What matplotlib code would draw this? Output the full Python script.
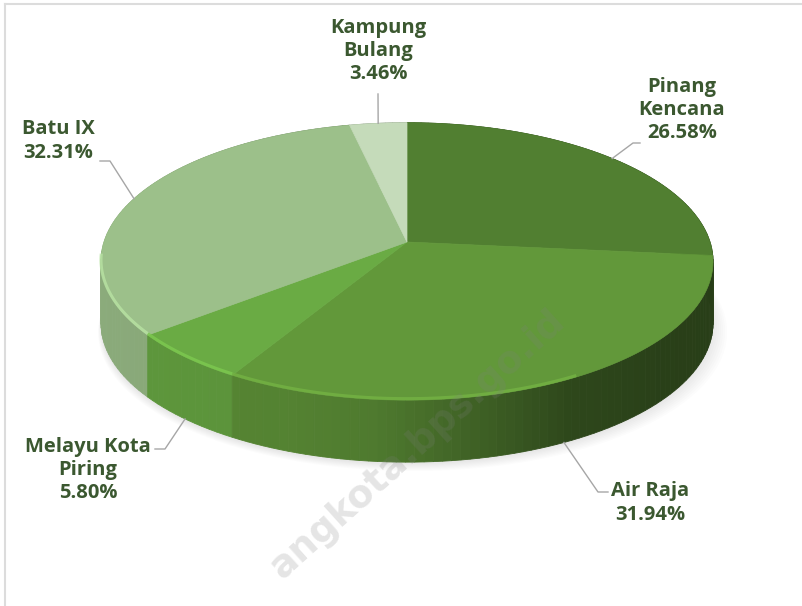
import numpy as np
import matplotlib
matplotlib.use("Agg")
import matplotlib.pyplot as plt
from matplotlib.patches import Polygon
from matplotlib.colors import to_rgb

# ---- data ----
names = ["Pinang\nKencana", "Air Raja", "Melayu Kota\nPiring", "Batu IX", "Kampung\nBulang"]
values = [26.58, 31.94, 5.80, 32.31, 3.46]
top_colors = ["#517f31", "#62983a", "#6aab44", "#9cc08a", "#c5dbba"]

# ---- layout (pixel space) ----
CX, CY = 407.0, 242.0      # centre of the top face
A, B = 303.0, 136.0        # radii
K = 0.14                   # perspective factor
H = 62.0                   # thickness
START = 90.0

# label layout: (text centre x, text centre y, elbow point, segment end)
label_layout = [
    (682, 110, (633, 143), (640, 143)),
    (650, 503, (598, 492), (608, 492)),
    (88, 470, (165, 449), (155, 449)),
    (58, 141, (110, 161), (100, 161)),
    (378, 51, (378, 94), (378, 94)),
]

def proj(theta_deg, dz=0.0):
    t = np.radians(theta_deg)
    u, v = np.cos(t), np.sin(t)
    w = 1 + K * v
    return CX + A * u / w, CY - B * v / w + dz

def shade(theta_deg):
    th = np.mod(theta_deg, 360)
    xs = [0, 90, 180, 250, 265, 280, 298, 320, 360]
    fs = [0.40, 0.6, 0.90, 0.86, 0.80, 0.65, 0.47, 0.42, 0.40]
    return np.interp(th, xs, fs)

fig = plt.figure(figsize=(8.02, 6.06), dpi=100)
ax = fig.add_axes([0, 0, 1, 1])
ax.set_xlim(0, 802)
ax.set_ylim(606, 0)
ax.axis("off")

# frame lines
ax.plot([5, 5], [4, 606], color="#dcdcdc", lw=1.5, zorder=1)
ax.plot([5, 802], [4, 4], color="#dcdcdc", lw=1.5, zorder=1)

total = sum(values)
spans = [v / total * 360 for v in values]
bounds = []
a = START
for s in spans:
    bounds.append((a, a - s))
    a -= s

# soft shadow
th_all = np.linspace(0, 360, 240)
for i in range(8):
    xs, ys = proj(th_all, H + 2 + i)
    xs = CX + (xs - CX) * (1 + 0.004 * i) + i * 0.8
    ax.add_patch(Polygon(np.c_[xs, ys], closed=True, fc="black", ec="none",
                         alpha=0.012, zorder=2))

# side quads
quads = []
for (a0, a1), col in zip(bounds, top_colors):
    base = np.array(to_rgb(col))
    n = max(int(abs(a0 - a1) / 1.5), 2)
    th = np.linspace(a0, a1, n + 1)
    for t1, t2 in zip(th[:-1], th[1:]):
        tm = 0.5 * (t1 + t2)
        depth = np.sin(np.radians(tm))
        quads.append((depth, t1, t2, base, tm))
quads.sort(key=lambda q: -q[0])
for depth, t1, t2, base, tm in quads:
    x1, y1 = proj(t1)
    x2, y2 = proj(t2)
    f = shade(tm)
    c = np.clip(base * f, 0, 1)
    poly = [(x1, y1), (x2, y2), (x2, y2 + H), (x1, y1 + H)]
    ax.add_patch(Polygon(poly, closed=True, fc=c, ec=c, lw=0.6, zorder=3))

# top wedges
for (a0, a1), col in zip(bounds, top_colors):
    th = np.linspace(a0, a1, 200)
    xs, ys = proj(th)
    pts = np.vstack([[CX, CY], np.c_[xs, ys]])
    ax.add_patch(Polygon(pts, closed=True, fc=col, ec=col, lw=0.5, zorder=4))

# bevel highlight along the front rim
for (a0, a1), col in zip(bounds, top_colors):
    lo, hi = min(a0, a1), max(a0, a1)
    th = np.linspace(lo, hi, 120)
    th = np.mod(th, 360)
    mask = (th > 185) & (th < 300)
    if mask.sum() > 2:
        xs, ys = proj(th[mask])
        c = np.clip(np.array(to_rgb(col)) * 1.18, 0, 1)
        ax.plot(xs, ys - 1.5, color=c, lw=2.2, alpha=0.8, zorder=5,
                solid_capstyle="butt")

# labels & leader lines
txt_color = "#3b5830"
for (a0, a1), name, val, (tx, ty, elbow, end) in zip(bounds, names, values, label_layout):
    mid = 0.5 * (a0 + a1)
    dz = H if np.sin(np.radians(mid)) < -0.3 else 0.0
    px, py = proj(mid, dz)
    ax.plot([px, elbow[0], end[0]], [py, elbow[1], end[1]],
            color="#a6a6a6", lw=1.0, zorder=6)
    ax.text(tx, ty, f"{name}\n{val:.2f}%", ha="center", va="center",
            multialignment="center", fontsize=14.5, fontweight="bold",
            family="Open Sans", color=txt_color, linespacing=1.22, zorder=7)

# watermark
ax.text(418, 444, "angkota.bps.go.id", rotation=42, rotation_mode="anchor",
        ha="center", va="center", fontsize=27, fontweight="bold",
        color="#7f7f7f", alpha=0.2, zorder=8)

fig.savefig("out.png", dpi=100, facecolor="white")
